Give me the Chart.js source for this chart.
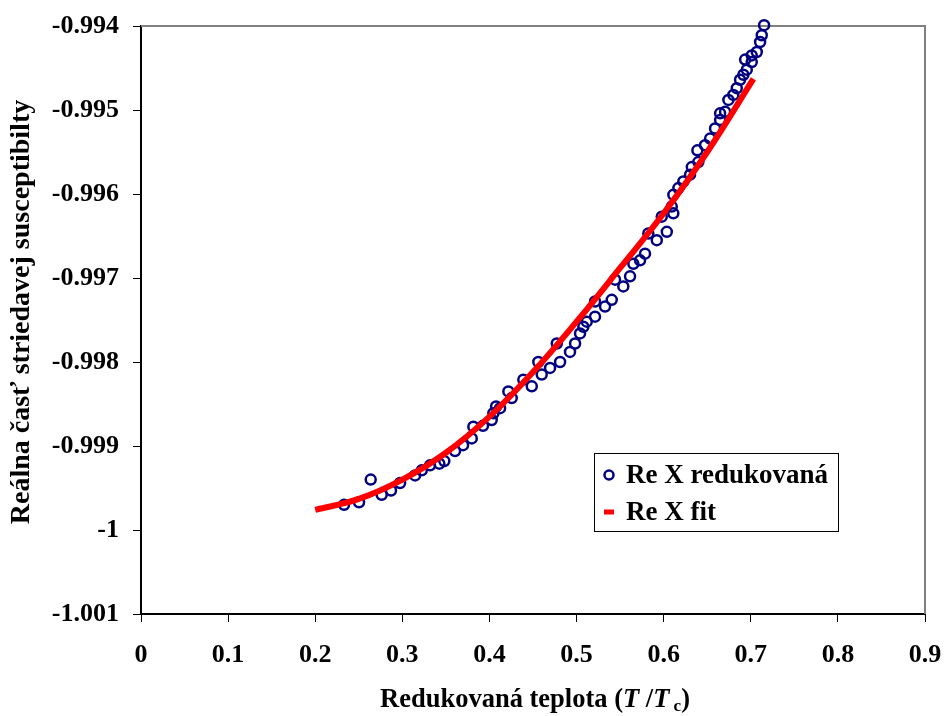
<!DOCTYPE html>
<html><head><meta charset="utf-8">
<script src="https://cdn.jsdelivr.net/npm/chart.js@4.4.0/dist/chart.umd.min.js"></script>
<style>html,body{margin:0;padding:0;background:#fff;}canvas{display:block;}</style>
</head><body>
<canvas id="c" width="948" height="716"></canvas>
<script>
// measured data: reduced temperature T/Tc
const measuredT = [0.2331,0.2503,0.2637,0.2763,0.2870,0.2974,0.3146,0.3223,0.3318,0.3425,0.3482,0.3605,0.3697,0.3797,0.3815,0.3926,0.4026,0.4045,0.4076,0.4122,0.4217,0.4256,0.4389,0.4486,0.4561,0.4600,0.4696,0.4773,0.4811,0.4925,0.4983,0.5040,0.5078,0.5117,0.5212,0.5212,0.5327,0.5404,0.5442,0.5537,0.5614,0.5652,0.5729,0.5786,0.5824,0.5921,0.5978,0.6036,0.6093,0.6111,0.6111,0.6169,0.6226,0.6303,0.6323,0.6398,0.6387,0.6475,0.6533,0.6590,0.6648,0.6648,0.6705,0.6743,0.6800,0.6839,0.6877,0.6915,0.6954,0.6935,0.7011,0.7011,0.7069,0.7107,0.7126,0.7153];
// measured data: real part of AC susceptibility
const measuredX = [-0.99970,-0.99967,-0.99940,-0.99958,-0.99953,-0.99944,-0.99935,-0.99929,-0.99923,-0.99921,-0.99918,-0.99906,-0.99899,-0.99891,-0.99877,-0.99876,-0.99869,-0.99861,-0.99853,-0.99855,-0.99835,-0.99843,-0.99821,-0.99829,-0.99800,-0.99815,-0.99807,-0.99778,-0.99800,-0.99788,-0.99778,-0.99766,-0.99758,-0.99752,-0.99746,-0.99728,-0.99734,-0.99726,-0.99702,-0.99710,-0.99698,-0.99683,-0.99679,-0.99671,-0.99647,-0.99655,-0.99627,-0.99645,-0.99615,-0.99623,-0.99601,-0.99593,-0.99585,-0.99577,-0.99568,-0.99562,-0.99548,-0.99542,-0.99534,-0.99522,-0.99512,-0.99504,-0.99502,-0.99488,-0.99482,-0.99474,-0.99464,-0.99458,-0.99452,-0.99440,-0.99443,-0.99435,-0.99431,-0.99419,-0.99411,-0.99399];
// fit curve
const fitT = [0.20,0.25,0.30,0.35,0.40,0.45,0.50,0.55,0.60,0.65,0.703];
const fitX = [-0.99976,-0.99963,-0.99940,-0.99908,-0.99865,-0.99812,-0.99752,-0.99688,-0.99623,-0.99550,-0.99463];
const xTicks = [0,0.1,0.2,0.3,0.4,0.5,0.6,0.7,0.8,0.9];
const xTickLabels = ['0','0.1','0.2','0.3','0.4','0.5','0.6','0.7','0.8','0.9'];
const yTicks = [-1.001,-1.000,-0.999,-0.998,-0.997,-0.996,-0.995,-0.994];
const yTickLabels = ['-1.001','-1','-0.999','-0.998','-0.997','-0.996','-0.995','-0.994'];
const seriesNames = ['Re X redukovaná','Re X fit'];
const yTitle = 'Reálna časť striedavej susceptibilty';

const FAM = "'Liberation Serif','Times New Roman',serif";
const FS = 26;

const decor = {
  id: 'decor',
  beforeDatasetsDraw(chart) {
    const {ctx, chartArea: a} = chart;
    ctx.save();
    ctx.strokeStyle = '#808080';
    ctx.lineWidth = 2;
    ctx.beginPath();
    ctx.moveTo(a.left, a.top); ctx.lineTo(a.right, a.top); ctx.lineTo(a.right, a.bottom);
    ctx.stroke();
    ctx.restore();
  },
  afterDraw(chart) {
    const {ctx, chartArea: a} = chart;
    ctx.save();
    // legend box
    const lx = a.left + 453, ly = a.top + 427, lw = 244, lh = 78;
    ctx.fillStyle = '#fff';
    ctx.fillRect(lx, ly, lw, lh);
    ctx.strokeStyle = '#000'; ctx.lineWidth = 1;
    ctx.strokeRect(lx + 0.5, ly + 0.5, lw, lh);
    ctx.font = 'bold 27px ' + FAM;
    ctx.fillStyle = '#000';
    ctx.textBaseline = 'middle';
    ctx.textAlign = 'left';
    const r1 = ly + 22, r2 = ly + 59;
    ctx.strokeStyle = '#000080'; ctx.lineWidth = 2.5;
    ctx.beginPath(); ctx.arc(lx + 15, r1, 4.5, 0, Math.PI * 2); ctx.stroke();
    ctx.fillText(seriesNames[0], lx + 32, r1 + 1);
    ctx.strokeStyle = '#ff0000'; ctx.lineWidth = 5;
    ctx.beginPath(); ctx.moveTo(lx + 10, r2); ctx.lineTo(lx + 20, r2); ctx.stroke();
    ctx.fillText(seriesNames[1], lx + 32, r2 + 1);
    // y title
    ctx.save();
    ctx.font = 'bold 28px ' + FAM;
    ctx.translate(22, 312);
    ctx.rotate(-Math.PI / 2);
    ctx.textAlign = 'center';
    ctx.fillText(yTitle, 0, 0);
    ctx.restore();
    // x title with italic T and subscript c
    const XS = 26.5;
    const parts = [
      {t: 'Redukovaná teplota (', f: 'bold ' + XS + 'px ' + FAM, dy: 0},
      {t: 'T', f: 'italic bold ' + XS + 'px ' + FAM, dy: 0},
      {t: ' /', f: 'bold ' + XS + 'px ' + FAM, dy: 0},
      {t: 'T', f: 'italic bold ' + XS + 'px ' + FAM, dy: 0},
      {t: ' c', f: 'bold ' + Math.round(XS * 0.66) + 'px ' + FAM, dy: 7},
      {t: ')', f: 'bold ' + XS + 'px ' + FAM, dy: 0}
    ];
    let total = 0;
    parts.forEach(p => { ctx.font = p.f; p.w = ctx.measureText(p.t).width; total += p.w; });
    let x = 535 - total / 2;
    const by = 700;
    ctx.textAlign = 'left';
    ctx.textBaseline = 'middle';
    parts.forEach(p => { ctx.font = p.f; ctx.fillText(p.t, x, by + p.dy); x += p.w; });
    ctx.restore();
  }
};

new Chart(document.getElementById('c'), {
  type: 'scatter',
  data: {
    datasets: [
      {
        label: seriesNames[1],
        data: fitT.map((t, i) => ({x: t, y: fitX[i]})),
        showLine: true,
        borderColor: '#ff0000',
        borderWidth: 6,
        pointRadius: 0,
        tension: 0.4,
        borderCapStyle: 'butt',
        order: 0
      },
      {
        label: seriesNames[0],
        data: measuredT.map((t, i) => ({x: t, y: measuredX[i]})),
        showLine: false,
        pointRadius: 5,
        pointBorderWidth: 2.5,
        borderColor: '#000080',
        pointBorderColor: '#000080',
        backgroundColor: 'rgba(0,0,0,0)',
        pointBackgroundColor: 'rgba(0,0,0,0)',
        clip: false,
        order: 1
      }
    ]
  },
  options: {
    responsive: false,
    animation: false,
    devicePixelRatio: 1,
    layout: {padding: {top: 26, right: 23, left: 0, bottom: 0}},
    plugins: {legend: {display: false}, tooltip: {enabled: false}},
    scales: {
      x: {
        type: 'linear', min: 0, max: 0.9,
        afterBuildTicks: s => { s.ticks = xTicks.map(v => ({value: v})); },
        afterFit: s => { s.height = 102; s.paddingRight = 0; s.paddingLeft = 0; },
        ticks: {
          callback: (v, i) => xTickLabels[i],
          font: {family: FAM, size: FS, weight: 'bold'},
          color: '#000', padding: 18, maxRotation: 0, autoSkip: false
        },
        grid: {drawOnChartArea: false, drawTicks: true, tickLength: 8, color: '#000', lineWidth: 1},
        border: {display: true, color: '#000', width: 2}
      },
      y: {
        type: 'linear', min: -1.001, max: -0.994,
        afterBuildTicks: s => { s.ticks = yTicks.map(v => ({value: v})); },
        afterFit: s => { s.width = 141; s.paddingTop = 0; s.paddingBottom = 0; },
        ticks: {
          callback: (v, i) => yTickLabels[i],
          font: {family: FAM, size: FS, weight: 'bold'},
          color: '#000', padding: 14, autoSkip: false
        },
        grid: {drawOnChartArea: false, drawTicks: true, tickLength: 8, color: '#000', lineWidth: 1},
        border: {display: true, color: '#000', width: 2}
      }
    }
  },
  plugins: [decor]
});
</script>
</body></html>
